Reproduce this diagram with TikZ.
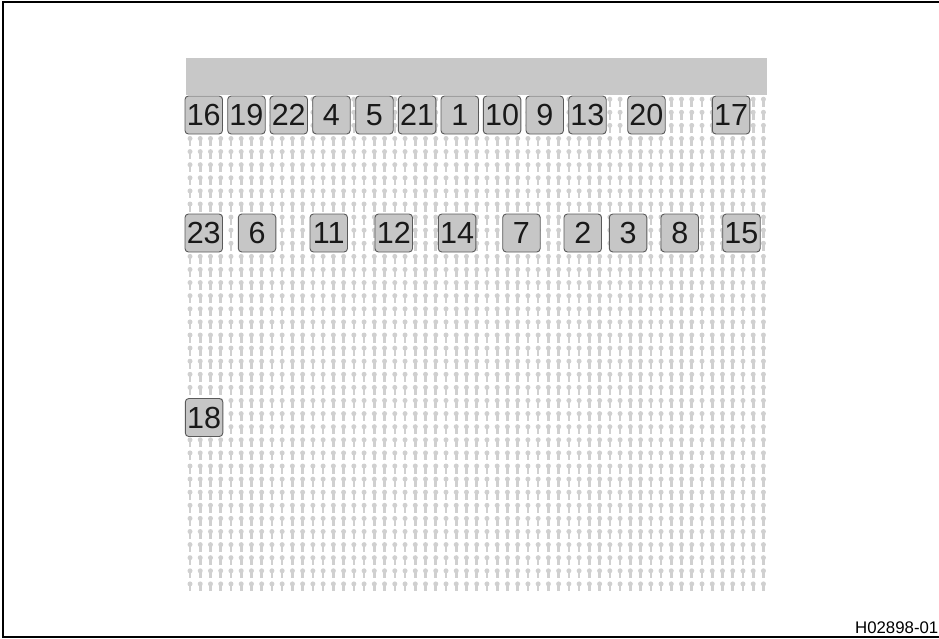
\documentclass[tikz,border=0pt]{standalone}
\usepackage{fontspec}
\setmainfont{Liberation Sans}
\definecolor{pincol}{HTML}{D0D0D0}
\definecolor{boxfill}{HTML}{C6C6C6}
\definecolor{boxline}{HTML}{5A5A5A}
\definecolor{barfill}{HTML}{C8C8C8}
\begin{document}
\begin{tikzpicture}[x=1pt,y=-1pt,
  fusebox/.style={draw=boxline,line width=0.9pt,fill=boxfill,rounded corners=3.5pt,
    minimum width=37.5pt,minimum height=38pt,inner sep=0pt,
    font=\fontsize{30.5}{30.5}\selectfont,text=black!90},
  framelinestyle/.style={line width=2pt,black}]
\useasboundingbox (0,0) rectangle (939,638);
% pin pattern
\foreach \i in {0,...,56} {
  \pgfmathsetmacro{\px}{190+10.24*\i}
  \foreach \j in {0,...,37} {
    \pgfmathsetmacro{\py}{96.7+13.1*\j}
    \fill[pincol] (\px,\py+2.5) circle[radius=2.5pt];
    \fill[pincol] (\px-1.3,\py+4) rectangle (\px+1.3,\py+10);
  }
}
% top bar
\fill[barfill] (186,58) rectangle (767,95);
% frame
\draw[framelinestyle] (940,2) -- (2.5,2) -- (2.5,637) -- (940,637);
% top row
\node[fusebox] (f16) at (203.75,115) {16};
\node[fusebox] (f19) at (246.45,115) {19};
\node[fusebox] (f22) at (288.75,115) {22};
\node[fusebox] (f4)  at (331.45,115) {4};
\node[fusebox] (f5)  at (374.45,115) {5};
\node[fusebox] (f21) at (417.05,115) {21};
\node[fusebox] (f1)  at (459.75,115) {1};
\node[fusebox] (f10) at (502.05,115) {10};
\node[fusebox] (f9)  at (544.75,115) {9};
\node[fusebox] (f13) at (587.45,115) {13};
\node[fusebox] (f20) at (646.45,115) {20};
\node[fusebox] (f17) at (731.05,115) {17};
% second row
\node[fusebox] (f23) at (203.75,233) {23};
\node[fusebox] (f6)  at (257.05,233) {6};
\node[fusebox] (f11) at (328.75,233) {11};
\node[fusebox] (f12) at (393.75,233) {12};
\node[fusebox] (f14) at (457.05,233) {14};
\node[fusebox] (f7)  at (521.45,233) {7};
\node[fusebox] (f2)  at (582.75,233) {2};
\node[fusebox] (f3)  at (628.05,233) {3};
\node[fusebox] (f8)  at (679.75,233) {8};
\node[fusebox] (f15) at (741.45,233) {15};
% third
\node[fusebox] (f18) at (204.05,417.5) {18};
% reference code
\node[anchor=base east,inner sep=0pt,font=\fontsize{16.8}{16.8}\selectfont] (code) at (938.5,633) {H02898-01};
\end{tikzpicture}
\end{document}
